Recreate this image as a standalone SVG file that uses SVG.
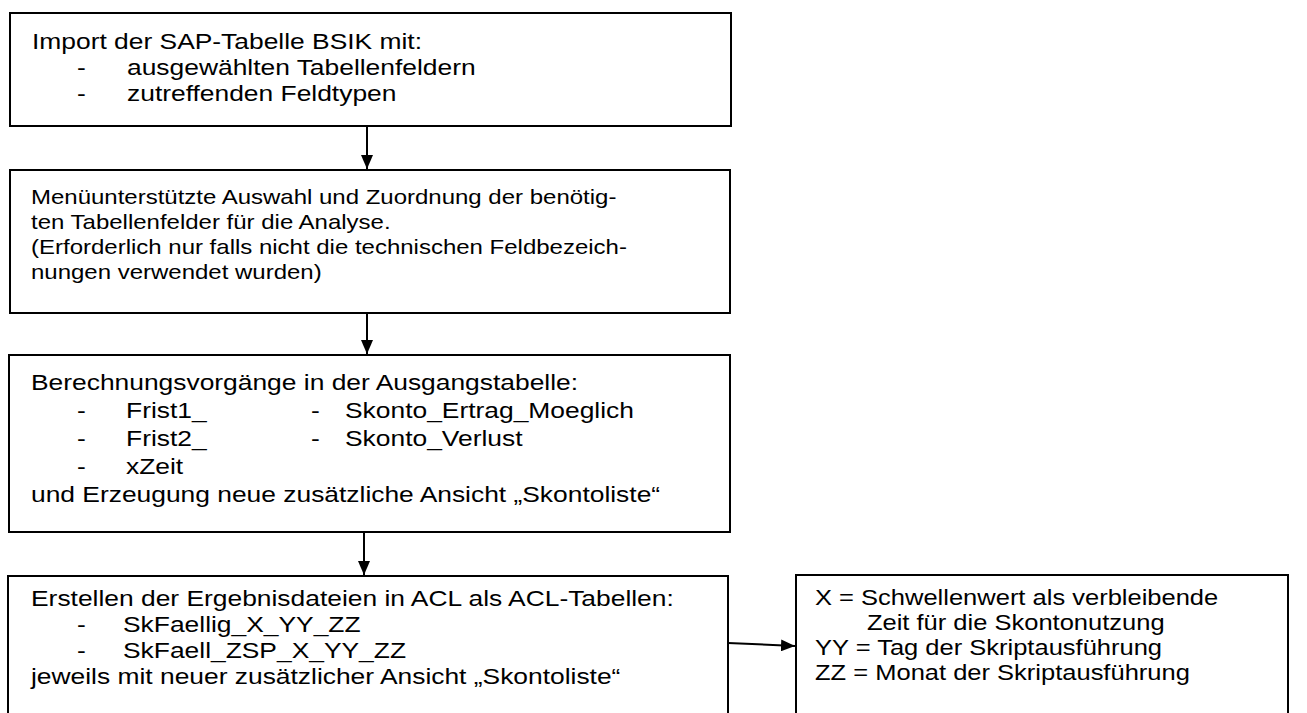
<svg xmlns="http://www.w3.org/2000/svg" width="1307" height="713" viewBox="0 0 1307 713">
<defs>
<style>
.box{fill:#fff;stroke:#000;stroke-width:2}
.t{font-family:"Liberation Sans",Arial,sans-serif;font-size:22px;fill:#000}
.s{font-size:20px}
.r{font-size:21.25px}
.c{stroke:#000;stroke-width:2;fill:none}
</style>
<marker id="ah" viewBox="0 0 14 12" refX="14" refY="6" markerWidth="14" markerHeight="12" markerUnits="userSpaceOnUse" orient="auto">
<path d="M0,0 L14,6 L0,12 Z" fill="#000"/>
</marker>
</defs>
<rect width="1307" height="713" fill="#fff"/>
<g id="connectors">
<line class="c" x1="367" y1="126" x2="367" y2="169" marker-end="url(#ah)"/>
<line class="c" x1="367" y1="313" x2="367" y2="354" marker-end="url(#ah)"/>
<line class="c" x1="364" y1="532" x2="364" y2="575" marker-end="url(#ah)"/>
<line class="c" x1="728" y1="643" x2="795" y2="646" marker-end="url(#ah)"/>
</g>
<g id="node1">
<rect class="box" x="10" y="13" width="721" height="113"/>
<text class="t" transform="translate(32,0) scale(1.2,1)"><tspan x="0" y="49">Import der SAP-Tabelle BSIK mit:</tspan><tspan x="37.5" y="75">-</tspan><tspan x="79.2" y="75">ausgewählten Tabellenfeldern</tspan><tspan x="37.5" y="101">-</tspan><tspan x="79.2" y="101">zutreffenden Feldtypen</tspan></text>
</g>
<g id="node2">
<rect class="box" x="10" y="170" width="720" height="143"/>
<text class="t s" transform="translate(31,0) scale(1.2,1)"><tspan x="0" y="204">Menüunterstützte Auswahl und Zuordnung der benötig-</tspan><tspan x="0" y="229">ten Tabellenfelder für die Analyse.</tspan><tspan x="0" y="254">(Erforderlich nur falls nicht die technischen Feldbezeich-</tspan><tspan x="0" y="279">nungen verwendet wurden)</tspan></text>
</g>
<g id="node3">
<rect class="box" x="9" y="355" width="721" height="177"/>
<text class="t" transform="translate(31,0) scale(1.2,1)"><tspan x="0" y="390">Berechnungsvorgänge in der Ausgangstabelle:</tspan><tspan x="38.3" y="418">-</tspan><tspan x="79.2" y="418">Frist1_</tspan><tspan x="233.3" y="418">-</tspan><tspan x="261.7" y="418">Skonto_Ertrag_Moeglich</tspan><tspan x="38.3" y="446">-</tspan><tspan x="79.2" y="446">Frist2_</tspan><tspan x="233.3" y="446">-</tspan><tspan x="261.7" y="446">Skonto_Verlust</tspan><tspan x="38.3" y="474">-</tspan><tspan x="79.2" y="474">xZeit</tspan><tspan x="0" y="502">und Erzeugung neue zusätzliche Ansicht „Skontoliste“</tspan></text>
</g>
<g id="node4">
<rect class="box" x="8" y="576" width="720" height="160"/>
<text class="t" transform="translate(31,0) scale(1.2,1)"><tspan x="0" y="606">Erstellen der Ergebnisdateien in ACL als ACL-Tabellen:</tspan><tspan x="38.3" y="632">-</tspan><tspan x="76.7" y="632">SkFaellig_X_YY_ZZ</tspan><tspan x="38.3" y="658">-</tspan><tspan x="76.7" y="658">SkFaell_ZSP_X_YY_ZZ</tspan><tspan x="0" y="684">jeweils mit neuer zusätzlicher Ansicht „Skontoliste“</tspan></text>
</g>
<g id="node5">
<rect class="box" x="796" y="575" width="492" height="160"/>
<text class="t r" transform="translate(815,0) scale(1.2,1)"><tspan x="0" y="605">X = Schwellenwert als verbleibende</tspan><tspan x="43.3" y="630">Zeit für die Skontonutzung</tspan><tspan x="0" y="655">YY = Tag der Skriptausführung</tspan><tspan x="0" y="680">ZZ = Monat der Skriptausführung</tspan></text>
</g>
</svg>
